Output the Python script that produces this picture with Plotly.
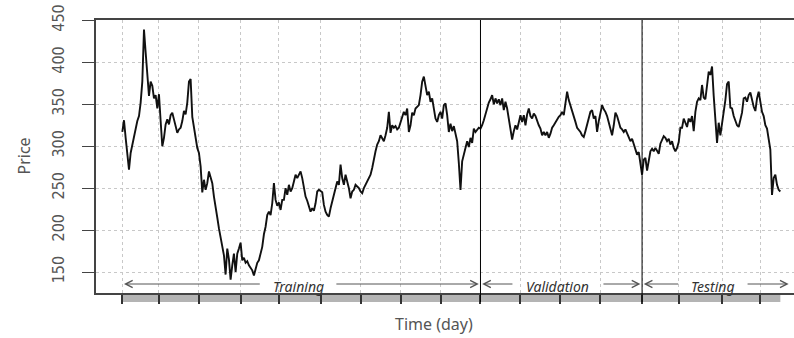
import plotly.graph_objects as go

price = [
    317, 331, 310, 290, 272, 292, 302, 313, 322, 330,
    336, 352, 377, 439, 412, 385, 360, 377, 372, 357,
    361, 345, 362, 330, 300, 310, 326, 332, 326, 337,
    340, 332, 322, 316, 320, 322, 330, 342, 338, 352,
    377, 380, 335, 324, 308, 298, 292, 276, 245, 260,
    248, 256, 270, 262, 256, 240, 225, 215, 202, 190,
    180, 170, 147, 178, 165, 141, 158, 172, 150, 172,
    178, 185, 164, 167, 161, 163, 158, 155, 152, 146,
    155, 161, 164, 172, 180, 195, 204, 218, 222, 218,
    232, 256, 236, 229, 233, 224, 236, 236, 250, 242,
    254, 246, 250, 258, 266, 262, 266, 270, 262, 252,
    240, 235, 228, 222, 226, 223, 232, 246, 248, 247,
    245, 230, 222, 218, 216, 226, 234, 242, 250, 258,
    254, 278, 262, 254, 266, 258, 250, 238, 246, 248,
    254, 252, 250, 246, 244, 250, 254, 258, 262, 266,
    274, 286, 294, 302, 306, 313, 310, 306, 313, 322,
    341, 316, 325, 322, 324, 320, 322, 329, 333, 341,
    337, 345, 317, 325, 340, 337, 345, 347, 349, 361,
    377, 383, 373, 361, 365, 353, 357, 345, 333, 329,
    337, 341, 333, 349, 351, 337, 317, 327, 318, 324,
    313, 306, 280, 248, 282, 290, 296, 306, 299, 310,
    304, 321, 317, 320, 322, 321, 325, 331, 338, 346,
    352, 356, 361, 350, 357, 351, 356, 349, 357, 343,
    353, 345, 333, 317, 308, 318, 325, 320, 331, 337,
    329, 337, 325, 338, 345, 336, 333, 339, 336, 329,
    325, 321, 313, 317, 313, 317, 310, 315, 322, 325,
    329, 333, 335, 337, 341, 337, 350, 365, 355, 349,
    341, 336, 329, 322, 320, 317, 313, 311, 318, 326,
    333, 341, 343, 333, 336, 317, 330, 341, 349, 344,
    341, 336, 329, 322, 313, 325, 340, 336, 328, 322,
    320, 317, 320, 315, 310, 306, 309, 302, 297, 290,
    293, 280, 266, 284, 286, 271, 282, 294, 297, 294,
    298, 294, 291, 303, 308, 312, 310, 306, 309, 302,
    306, 298, 294, 298, 305, 322, 322, 333, 328, 323,
    333, 329, 336, 318, 341, 353, 357, 355, 373, 358,
    356, 375, 389, 385, 395, 360, 337, 304, 328, 313,
    327, 339, 355, 374, 377, 346, 345, 336, 329, 325,
    323, 334, 340, 357, 358, 353, 361, 364, 355, 347,
    342, 357, 365, 350, 341, 336, 325, 321, 306, 296,
    242, 262, 266, 254, 248, 246,
]
day = list(range(len(price)))

# Month boundaries (trading-day index) used for ticks and vertical grid
month_ticks = [0, 22, 46, 71, 94, 119, 143, 167, 191, 215, 239, 263, 287, 312, 334, 360, 383]
price_ticks = [150, 200, 250, 300, 350, 400, 450]

# Data split: training | validation | testing
segment_names = ["Training", "Validation", "Testing"]
segment_edges = [0, 215, 312, 401]

X_RANGE = [-15.8, 403.2]
Y_RANGE = [125, 450.5]
W, H = 794, 338
M = dict(l=96, r=0, t=20, b=45)
plot_w = W - M["l"] - M["r"]
plot_h = H - M["t"] - M["b"]
px_per_day = plot_w / (X_RANGE[1] - X_RANGE[0])
units_per_px = (Y_RANGE[1] - Y_RANGE[0]) / plot_h


def xpaper(d):
    return (d - X_RANGE[0]) / (X_RANGE[1] - X_RANGE[0])


AX_COL = "#444444"
TXT_COL = "#555555"
GRID_COL = "#c8c8c8"

fig = go.Figure()
fig.add_trace(go.Scatter(
    x=day, y=price, mode="lines",
    line=dict(color="#111111", width=1.9),
    hoverinfo="x+y", showlegend=False,
))

bar_h = 9 / plot_h
shapes = [
    # grey time bar under the plotting region
    dict(type="rect", xref="paper", yref="paper",
         x0=xpaper(day[0]), x1=xpaper(day[-1]), y0=-bar_h, y1=0,
         fillcolor="#b4b4b4", line=dict(width=0), layer="below"),
]
for d in segment_edges[1:-1]:
    shapes.append(dict(type="line", xref="paper", yref="paper",
                       x0=xpaper(d), x1=xpaper(d), y0=-bar_h, y1=1,
                       line=dict(color="#000000", width=1), layer="above"))

annotations = []
arrow_y = Y_RANGE[0] + 9 * units_per_px
label_y = Y_RANGE[0] + 6.5 * units_per_px
for name, a, b in zip(segment_names, segment_edges[:-1], segment_edges[1:]):
    mid = (a + b) / 2 - 2
    half_gap = (3.6 * len(name) + 8) / px_per_day
    annotations.append(dict(
        x=mid, y=label_y, xref="x", yref="y", text=name, showarrow=False,
        font=dict(family="Noto Sans", size=14, color="#333333", style="italic"),
        xanchor="center", yanchor="middle"))
    for tip, tail in ((a + 1, mid - half_gap), (b - 1, mid + half_gap)):
        annotations.append(dict(
            x=tip, y=arrow_y, ax=tail, ay=arrow_y,
            xref="x", yref="y", axref="x", ayref="y",
            text="", showarrow=True, arrowhead=5, arrowsize=1.4,
            arrowwidth=1, arrowcolor="#555555", standoff=0))

# axis titles
annotations.append(dict(
    x=(23 - M["l"]) / plot_w, y=0.5, xref="paper", yref="paper",
    text="Price", textangle=-90, showarrow=False,
    font=dict(family="Noto Sans", size=16, color=TXT_COL),
    xanchor="center", yanchor="middle"))
annotations.append(dict(
    x=(434 - M["l"]) / plot_w, y=-(324 - (H - M["b"])) / plot_h,
    xref="paper", yref="paper", text="Time (day)", showarrow=False,
    font=dict(family="Noto Sans", size=16, color=TXT_COL),
    xanchor="center", yanchor="middle"))

fig.update_layout(
    width=W, height=H, margin=M,
    paper_bgcolor="white", plot_bgcolor="white",
    shapes=shapes, annotations=annotations,
    xaxis=dict(
        range=X_RANGE, tickvals=month_ticks, showticklabels=False,
        ticks="outside", ticklen=9, tickwidth=2, tickcolor="#333333",
        showgrid=True, gridcolor=GRID_COL, griddash="dot", gridwidth=1,
        showline=True, linecolor=AX_COL, linewidth=1.5, mirror=True,
        zeroline=False, automargin=False,
    ),
    yaxis=dict(
        range=Y_RANGE, tickvals=price_ticks, tickangle=-90,
        ticks="outside", ticklen=12, tickwidth=1, tickcolor=AX_COL,
        tickfont=dict(family="Liberation Sans Narrow, DejaVu Sans Condensed, Liberation Sans",
                      size=16, color=TXT_COL),
        ticklabelstandoff=12,
        showgrid=True, gridcolor=GRID_COL, griddash="dot", gridwidth=1,
        showline=True, linecolor=AX_COL, linewidth=1.5,
        zeroline=False, automargin=False,
    ),
)

fig.write_html("out.html")
